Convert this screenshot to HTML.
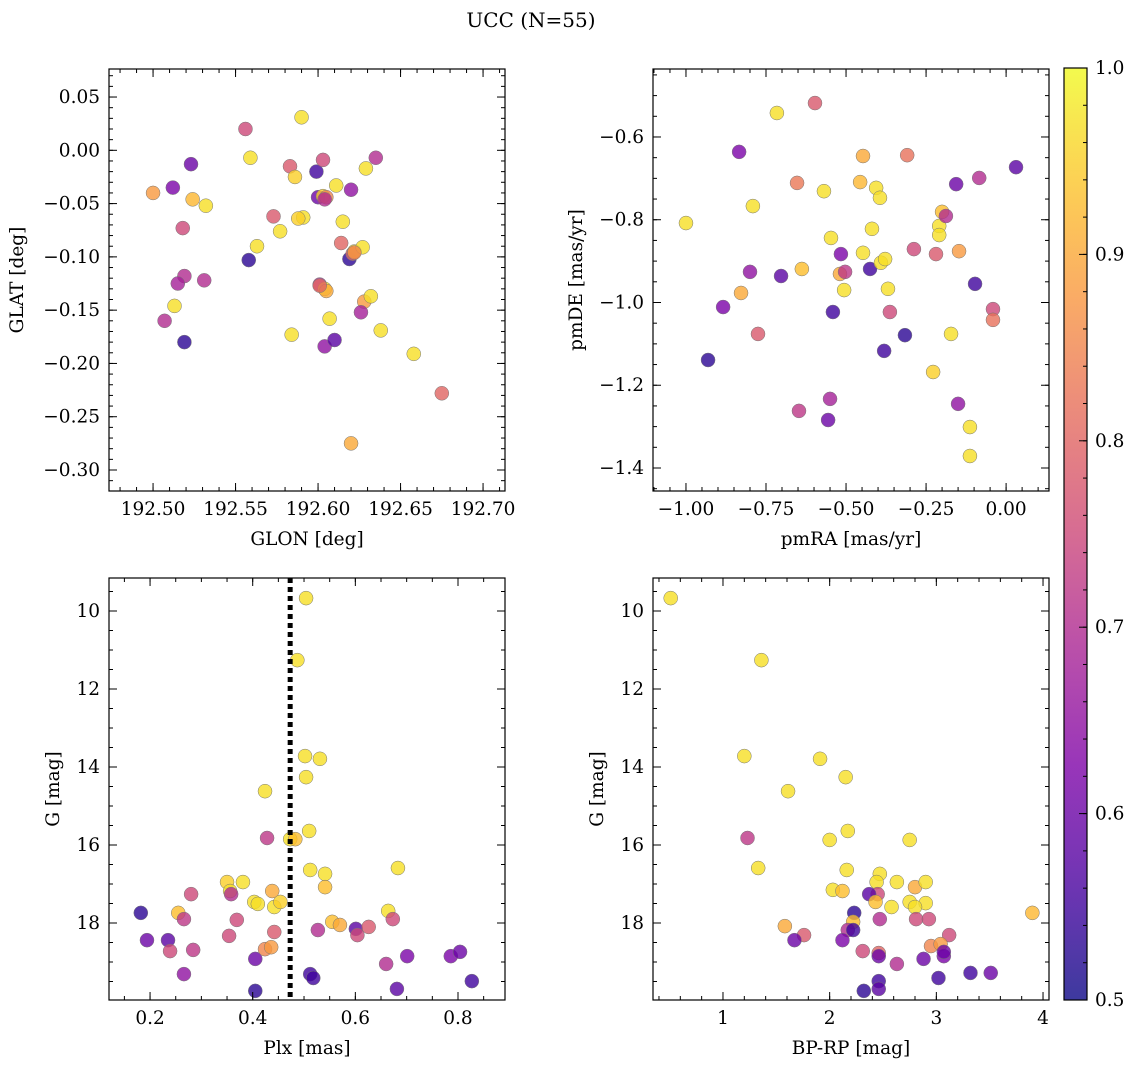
<!DOCTYPE html>
<html><head><meta charset="utf-8">
<style>
body{margin:0;background:#fff;}
svg text{font-family:"DejaVu Serif","Liberation Serif",serif;fill:#000;}
</style></head>
<body>
<svg id="fig" width="1136" height="1068" xmlns="http://www.w3.org/2000/svg">
<text x="531" y="27" font-size="20" text-anchor="middle">UCC (N=55)</text>
</svg>
<script>
// ---- data: panel 1 (GLON, GLAT, probability)
const p1Glon=[192.500,192.512,192.523,192.524,192.532,192.518,192.519,192.515,192.531,192.513,192.507,192.519,192.556,192.559,192.563,192.558,192.573,192.577,192.583,192.586,192.590,192.584,192.591,192.599,192.600,192.603,192.605,192.603,192.601,192.604,192.605,192.607,192.604,192.611,192.614,192.615,192.610,192.620,192.619,192.621,192.622,192.627,192.629,192.628,192.632,192.626,192.635,192.638,192.658,192.675,192.620,192.601,192.604,192.588,192.622];
const p1Glat=[-0.040,-0.035,-0.013,-0.046,-0.052,-0.073,-0.118,-0.125,-0.122,-0.146,-0.160,-0.180,0.020,-0.007,-0.090,-0.103,-0.062,-0.076,-0.015,-0.025,0.031,-0.173,-0.063,-0.020,-0.044,-0.043,-0.044,-0.009,-0.126,-0.130,-0.132,-0.158,-0.184,-0.033,-0.087,-0.067,-0.178,-0.037,-0.102,-0.097,-0.095,-0.091,-0.017,-0.142,-0.137,-0.152,-0.007,-0.169,-0.191,-0.228,-0.275,-0.127,-0.046,-0.064,-0.096];
const p1Prob=[0.88,0.62,0.6,0.92,0.97,0.75,0.7,0.68,0.7,0.97,0.7,0.53,0.75,0.97,0.97,0.53,0.78,0.97,0.78,0.95,0.97,0.97,0.97,0.55,0.6,0.95,0.85,0.75,0.7,0.97,0.9,0.97,0.65,0.97,0.8,0.97,0.58,0.65,0.53,0.8,0.95,0.97,0.97,0.88,0.97,0.68,0.7,0.97,0.97,0.8,0.9,0.8,0.7,0.95,0.85];
// ---- panel 2 (pmRA, pmDE)
const p2Pmra=[-1.000,-0.931,-0.884,-0.828,-0.834,-0.800,-0.791,-0.775,-0.716,-0.703,-0.653,-0.638,-0.647,-0.569,-0.547,-0.541,-0.550,-0.556,-0.597,-0.516,-0.519,-0.503,-0.506,-0.456,-0.447,-0.447,-0.419,-0.425,-0.406,-0.394,-0.391,-0.378,-0.381,-0.369,-0.363,-0.309,-0.316,-0.288,-0.228,-0.219,-0.209,-0.209,-0.200,-0.188,-0.172,-0.156,-0.150,-0.147,-0.097,-0.113,-0.113,-0.084,-0.041,-0.041,0.031];
const p2Pmde=[-0.808,-1.139,-1.011,-0.977,-0.636,-0.926,-0.767,-1.076,-0.542,-0.936,-0.711,-0.919,-1.262,-0.731,-0.844,-1.023,-1.233,-1.284,-0.518,-0.883,-0.931,-0.926,-0.970,-0.709,-0.646,-0.880,-0.822,-0.919,-0.723,-0.747,-0.904,-0.895,-1.117,-0.967,-1.023,-0.644,-1.079,-0.871,-1.168,-0.883,-0.815,-0.837,-0.781,-0.791,-1.076,-0.714,-1.245,-0.876,-0.955,-1.301,-1.371,-0.699,-1.016,-1.042,-0.673];
const p2Prob=[0.97,0.53,0.62,0.9,0.62,0.65,0.97,0.78,0.97,0.58,0.83,0.93,0.72,0.97,0.97,0.55,0.68,0.6,0.78,0.62,0.9,0.72,0.97,0.92,0.9,0.97,0.97,0.55,0.97,0.97,0.97,0.97,0.55,0.97,0.75,0.82,0.53,0.75,0.95,0.78,0.97,0.97,0.93,0.7,0.97,0.6,0.65,0.88,0.55,0.97,0.97,0.7,0.75,0.82,0.58];
// ---- panel 3 (Plx, G)
const p3Plx=[0.182,0.194,0.235,0.239,0.255,0.266,0.280,0.284,0.266,0.350,0.356,0.358,0.354,0.381,0.369,0.403,0.410,0.405,0.405,0.424,0.428,0.424,0.436,0.438,0.442,0.442,0.454,0.473,0.483,0.487,0.504,0.502,0.504,0.531,0.510,0.512,0.541,0.541,0.512,0.518,0.527,0.555,0.570,0.601,0.604,0.626,0.660,0.664,0.673,0.681,0.683,0.701,0.786,0.804,0.827];
const p3G=[17.74,18.44,18.44,18.72,17.74,17.90,17.26,18.69,19.31,16.95,17.18,17.26,18.33,16.95,17.92,17.46,17.51,18.92,19.74,14.62,15.82,18.67,18.62,17.18,18.23,17.59,17.46,15.85,15.85,11.26,9.67,13.72,14.26,13.79,15.64,16.64,16.74,17.08,19.31,19.41,18.18,17.97,18.05,18.15,18.31,18.10,19.05,17.69,17.90,19.69,16.59,18.85,18.85,18.74,19.49];
const p3Prob=[0.53,0.6,0.58,0.75,0.93,0.72,0.75,0.72,0.65,0.95,0.97,0.7,0.75,0.97,0.75,0.97,0.97,0.6,0.53,0.97,0.72,0.85,0.88,0.9,0.78,0.97,0.95,0.97,0.93,0.97,0.97,0.97,0.97,0.97,0.97,0.97,0.97,0.93,0.55,0.55,0.7,0.93,0.9,0.58,0.75,0.78,0.7,0.97,0.75,0.58,0.97,0.62,0.62,0.6,0.55];
const plxLine=0.473;
// ---- panel 4 (BP-RP, G)
const p4Color=[0.51,1.36,1.20,1.91,2.15,1.61,1.23,2.00,2.17,2.75,1.33,2.16,2.47,2.03,2.12,2.44,2.63,2.80,2.90,2.45,2.37,2.75,2.90,2.80,2.58,2.43,2.23,3.90,2.47,2.81,2.93,2.22,1.58,2.17,2.22,1.76,1.67,2.12,3.12,2.95,3.04,2.31,2.46,2.46,3.07,3.07,2.88,2.63,3.32,3.51,2.46,3.02,2.32,2.46];
const p4G=[9.67,11.26,13.72,13.79,14.26,14.62,15.82,15.87,15.64,15.87,16.59,16.64,16.74,17.15,17.18,16.95,16.95,17.08,16.95,17.26,17.26,17.46,17.49,17.59,17.59,17.46,17.74,17.74,17.90,17.90,17.90,17.97,18.08,18.18,18.18,18.31,18.44,18.44,18.31,18.59,18.54,18.72,18.77,18.85,18.85,18.74,18.92,19.05,19.28,19.28,19.49,19.41,19.74,19.69];
const p4Prob=[0.97,0.97,0.97,0.97,0.97,0.97,0.72,0.97,0.97,0.97,0.97,0.97,0.97,0.97,0.93,0.97,0.97,0.9,0.97,0.75,0.58,0.97,0.97,0.97,0.97,0.93,0.53,0.92,0.7,0.75,0.75,0.93,0.9,0.7,0.55,0.78,0.6,0.62,0.75,0.85,0.88,0.75,0.8,0.6,0.62,0.6,0.6,0.7,0.55,0.6,0.55,0.55,0.53,0.58];
// ---- tick labels
const p1XTicks=[192.50,192.55,192.60,192.65,192.70];
const p1YTicks=[0.05,0.00,-0.05,-0.10,-0.15,-0.20,-0.25,-0.30];
const p2XTicks=[-1.00,-0.75,-0.50,-0.25,0.00];
const p2YTicks=[-0.6,-0.8,-1.0,-1.2,-1.4];
const p3XTicks=[0.2,0.4,0.6,0.8];
const gTicks=[10,12,14,16,18];
const p4XTicks=[1,2,3,4];
const cbTicks=[0.5,0.6,0.7,0.8,0.9,1.0];

const NS='http://www.w3.org/2000/svg';
const svg=document.getElementById('fig');
const FS=18.5;
function mk(tag,attrs,parent){const e=document.createElementNS(NS,tag);for(const k in attrs)e.setAttribute(k,attrs[k]);(parent||svg).appendChild(e);return e;}
const stops=['#0d0887','#4c02a1','#7e03a8','#a92395','#cc4778','#e56b5d','#f89540','#fdc328','#f0f921'];
function hex(h){return [1,3,5].map(i=>parseInt(h.substr(i,2),16));}
function plasma(t){t=Math.max(0,Math.min(1,t));const s=t*8,i=Math.min(7,Math.floor(s)),f=s-i;const a=hex(stops[i]),b=hex(stops[i+1]);return 'rgb('+a.map((v,k)=>Math.round(v+(b[k]-v)*f)).join(',')+')';}
function pc(p){return plasma((p-0.5)/0.5);}

function panel(cfg){
  const {name,x0,y0,w,h,xmin,xmax,ymin,ymax,xs,ys,ps,xTicks,yTicks,xMinor,yMinor,xFmt,yFmt,xLabel,yLabel}=cfg;
  const g=mk('g',{});
  
  
  const sx=v=>x0+(v-xmin)/(xmax-xmin)*w;
  const sy=v=>y0+(ymax-v)/(ymax-ymin)*h;
  const cp=mk('clipPath',{id:'cp'+name},g);mk('rect',{x:x0,y:y0,width:w,height:h},cp);
  const pts=mk('g',{'clip-path':'url(#cp'+name+')'},g);
  for(let i=0;i<xs.length;i++){
    const c=mk('circle',{cx:sx(xs[i]),cy:sy(ys[i]),r:7,fill:pc(ps[i]),'fill-opacity':0.8,stroke:'#777','stroke-width':0.5},pts);
    
    
  }
  if(cfg.extra)cfg.extra(g,sx,sy);
  mk('rect',{x:x0,y:y0,width:w,height:h,fill:'none',stroke:'#000','stroke-width':1.2},g);
  const eps=1e-9;
  for(let v=Math.ceil(xmin/xMinor)*xMinor;v<=xmax+eps;v+=xMinor){const X=sx(v);mk('line',{x1:X,x2:X,y1:y0+h,y2:y0+h-4,stroke:'#000'},g);mk('line',{x1:X,x2:X,y1:y0,y2:y0+4,stroke:'#000'},g);}
  for(let v=Math.ceil(ymin/yMinor)*yMinor;v<=ymax+eps;v+=yMinor){const Y=sy(v);mk('line',{x1:x0,x2:x0+4,y1:Y,y2:Y,stroke:'#000'},g);mk('line',{x1:x0+w,x2:x0+w-4,y1:Y,y2:Y,stroke:'#000'},g);}
  xTicks.forEach(v=>{const X=sx(v);mk('line',{x1:X,x2:X,y1:y0+h,y2:y0+h-8,stroke:'#000'},g);mk('line',{x1:X,x2:X,y1:y0,y2:y0+8,stroke:'#000'},g);
    const t=mk('text',{x:X,y:y0+h+24,'font-size':FS,'text-anchor':'middle'},g);t.textContent=xFmt(v);
    });
  yTicks.forEach(v=>{const Y=sy(v);mk('line',{x1:x0,x2:x0+8,y1:Y,y2:Y,stroke:'#000'},g);mk('line',{x1:x0+w,x2:x0+w-8,y1:Y,y2:Y,stroke:'#000'},g);
    const t=mk('text',{x:x0-9,y:Y+6,'font-size':FS,'text-anchor':'end'},g);t.textContent=yFmt(v);
    });
  const xl=mk('text',{x:x0+w/2,y:y0+h+54,'font-size':FS,'text-anchor':'middle'},g);xl.textContent=xLabel;
  
  const yl=mk('text',{x:0,y:0,'font-size':FS,'text-anchor':'middle',transform:'translate('+cfg.ylx+','+(y0+h/2)+') rotate(-90)'},g);yl.textContent=yLabel;
  
}
const f2=v=>(v===0?0:v).toFixed(2).replace('-','\u2212');
const f1=v=>v.toFixed(1).replace('-','\u2212');
const f0=v=>String(v);
panel({name:'glon-glat-panel',x0:109,y0:69,w:396,h:422,xmin:192.4733,xmax:192.7133,ymin:-0.3197,ymax:0.0763,xs:p1Glon,ys:p1Glat,ps:p1Prob,xTicks:p1XTicks,yTicks:p1YTicks,xMinor:0.01,yMinor:0.01,xFmt:v=>v.toFixed(2),yFmt:f2,xLabel:'GLON [deg]',yLabel:'GLAT [deg]',ylx:23});
panel({name:'pm-panel',x0:653,y0:69,w:396,h:422,xmin:-1.103,xmax:0.134,ymin:-1.4556,ymax:-0.4357,xs:p2Pmra,ys:p2Pmde,ps:p2Prob,xTicks:p2XTicks,yTicks:p2YTicks,xMinor:0.05,yMinor:0.05,xFmt:f2,yFmt:f1,xLabel:'pmRA [mas/yr]',yLabel:'pmDE [mas/yr]',ylx:582});
panel({name:'plx-g-panel',x0:109,y0:578,w:396,h:422,xmin:0.120,xmax:0.8916,ymin:-19.974,ymax:-9.154,xs:p3Plx,ys:p3G.map(v=>-v),ps:p3Prob,xTicks:p3XTicks,yTicks:gTicks.map(v=>-v),xMinor:0.05,yMinor:0.5,xFmt:f1,yFmt:v=>f0(-v),xLabel:'Plx [mas]',yLabel:'G [mag]',ylx:59,
  extra:(g,sx,sy)=>{const l=mk('line',{x1:sx(plxLine),x2:sx(plxLine),y1:578,y2:1000,stroke:'#000','stroke-width':5,'stroke-dasharray':'5,4'},g);}});
panel({name:'cmd-panel',x0:653,y0:578,w:396,h:422,xmin:0.344,xmax:4.056,ymin:-19.974,ymax:-9.154,xs:p4Color,ys:p4G.map(v=>-v),ps:p4Prob,xTicks:p4XTicks,yTicks:gTicks.map(v=>-v),xMinor:0.2,yMinor:0.5,xFmt:f0,yFmt:v=>f0(-v),xLabel:'BP-RP [mag]',yLabel:'G [mag]',ylx:603});
const cb=mk('g',{});


const gr=mk('linearGradient',{id:'cbg',x1:0,y1:1,x2:0,y2:0},cb);
for(let i=0;i<=20;i++){mk('stop',{offset:i/20,'stop-color':plasma(i/20),'stop-opacity':0.8},gr);}
mk('rect',{x:1064,y:68,width:23,height:932,fill:'url(#cbg)',stroke:'#000','stroke-width':1.2},cb);
const cy=v=>1000-(v-0.5)/0.5*932;
for(let v=0.5;v<=1.0001;v+=0.02){mk('line',{x1:1087,x2:1083,y1:cy(v),y2:cy(v),stroke:'#000'},cb);}
cbTicks.forEach(v=>{mk('line',{x1:1087,x2:1079,y1:cy(v),y2:cy(v),stroke:'#000'},cb);
  const t=mk('text',{x:1095,y:cy(v)+6,'font-size':FS},cb);t.textContent=v.toFixed(1);
  });
</script>
</body></html>
